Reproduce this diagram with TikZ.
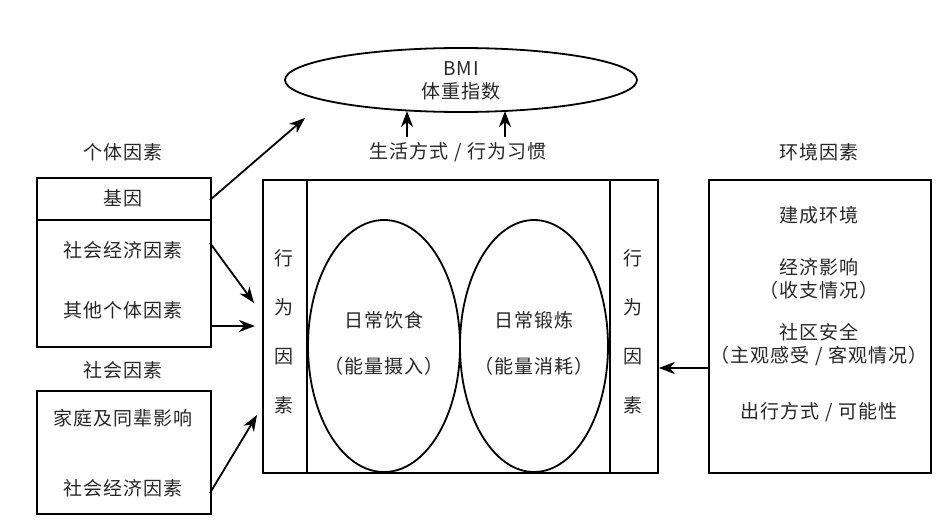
\documentclass[tikz,border=0pt]{standalone}
\usepackage{fontspec}
\setmainfont{Noto Sans CJK SC}[LetterSpace=6]
\usetikzlibrary{shapes.geometric,arrows.meta}
\begin{document}
\begin{tikzpicture}[x=1pt,y=-1pt,
  line width=1.8pt,
  txt/.style={font=\fontsize{19}{23}\selectfont, text=black!85, inner sep=0pt, align=center},
  boxn/.style={draw, anchor=north west, inner sep=0pt},
  arr/.style={-{Stealth[length=16pt,width=12pt,inset=5pt]}, line width=1.8pt}]
\useasboundingbox (0,0) rectangle (950,532);
% BMI ellipse
\node[draw, ellipse, minimum width=352pt, minimum height=64pt, inner sep=0pt] (bmi) at (461,80) {};
\node[txt] (bmitxt) at (461,81) {BMI\\体重指数};
\node[txt] (life) at (458,152) {生活方式 / 行为习惯};
\coordinate (t1) at (407,111);
\coordinate (t2) at (505,111);
\coordinate (s1) at (407,137);
\coordinate (s2) at (505,137);
\draw[arr] (s1) -- (t1);
\draw[arr] (s2) -- (t2);
% individual factors
\node[txt] (indivlbl) at (123,152) {个体因素};
\node[boxn, minimum width=174pt, minimum height=169pt] (indiv) at (36,177) {};
\draw (indiv.west |- 0,220) coordinate (dl) -- (indiv.east |- 0,220) coordinate (dr);
\node[txt] (gene) at (123,198) {基因};
\node[txt] (se1) at (123,250) {社会经济因素};
\node[txt] (other) at (123,310) {其他个体因素};
% social factors
\node[txt] (soclbl) at (123,370) {社会因素};
\node[boxn, minimum width=174pt, minimum height=123pt] (soc) at (36,390) {};
\node[txt] (family) at (123,418) {家庭及同辈影响};
\node[txt] (se2) at (123,488) {社会经济因素};
% main box
\node[boxn, minimum width=395pt, minimum height=293pt] (main) at (262,179) {};
\draw (307,179) coordinate (v1a) -- (307,472) coordinate (v1b);
\draw (610,179) coordinate (v2a) -- (610,472) coordinate (v2b);
\node[draw, ellipse, minimum width=152pt, minimum height=252pt, inner sep=0pt] (diet) at (384,346) {};
\node[draw, ellipse, minimum width=148pt, minimum height=252pt, inner sep=0pt] (exer) at (534,346) {};
\node[txt] (d1) at (384,320) {日常饮食};
\node[txt] (d2) at (384,366) {（能量摄入）};
\node[txt] (e1) at (534,320) {日常锻炼};
\node[txt] (e2) at (534,366) {（能量消耗）};
\node[txt, font=\fontsize{19}{49}\selectfont] (bl) at (284,332) {行\\为\\因\\素};
\node[txt, font=\fontsize{19}{49}\selectfont] (br) at (633,332) {行\\为\\因\\素};
% environment
\node[txt] (envlbl) at (819,152) {环境因素};
\node[boxn, minimum width=222pt, minimum height=293pt] (env) at (708,179) {};
\node[txt] (en1) at (819,215) {建成环境};
\node[txt] (en2) at (819,279) {经济影响\\（收支情况）};
\node[txt] (en3) at (819,345) {社区安全\\（主观感受 / 客观情况）};
\node[txt] (en4) at (819,412) {出行方式 / 可能性};
% arrows
\coordinate (g0) at (210,200);
\coordinate (g1) at (305,118);
\draw[arr] (g0) -- (g1);
\coordinate (a0) at (210,243);
\coordinate (a1) at (254,303);
\draw[arr] (a0) -- (a1);
\coordinate (b0) at (210,326);
\coordinate (b1) at (255,326);
\draw[arr] (b0) -- (b1);
\coordinate (c0) at (210,493);
\coordinate (c1) at (257,415);
\draw[arr] (c0) -- (c1);
\draw[arr] (env.west |- 0,368) -- (main.east |- 0,368);
\end{tikzpicture}
\end{document}
